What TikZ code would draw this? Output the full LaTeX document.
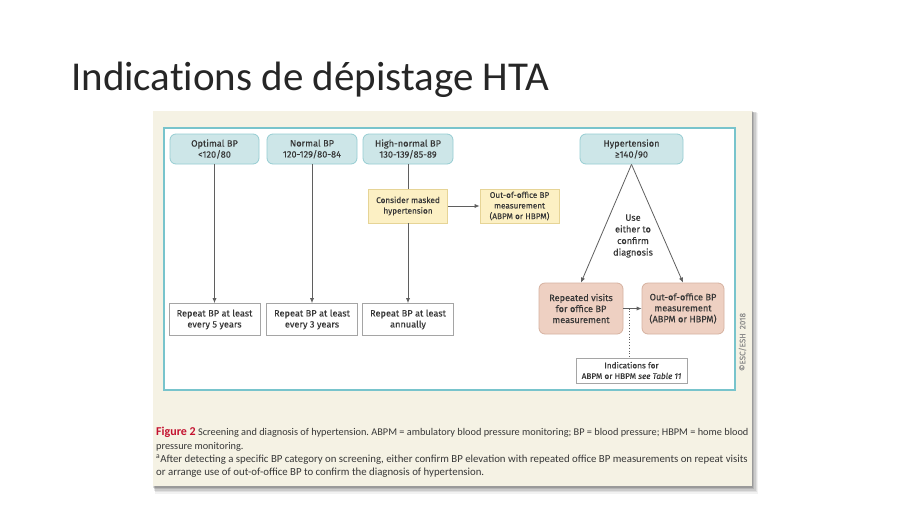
\documentclass[tikz,border=0pt]{standalone}
\usepackage{fontspec}
\setmainfont{Carlito}
\newfontfamily\titlefont[Ligatures=NoCommon]{Carlito}
\newfontfamily\nodefont[FakeBold=0.12]{Fira Sans}
\newfontfamily\capfont{Carlito}
\usetikzlibrary{arrows.meta}
\definecolor{panelbg}{RGB}{245,242,228}
\definecolor{tealframe}{RGB}{120,196,204}
\definecolor{tealfill}{RGB}{205,230,232}
\definecolor{tealline}{RGB}{150,205,210}
\definecolor{yelfill}{RGB}{252,240,196}
\definecolor{yelline}{RGB}{230,212,150}
\definecolor{pinkfill}{RGB}{238,208,194}
\definecolor{pinkline}{RGB}{214,178,160}
\definecolor{grayline}{RGB}{165,165,165}
\definecolor{txt}{RGB}{55,55,55}
\definecolor{conn}{RGB}{95,95,95}
\definecolor{figred}{RGB}{196,18,48}
\tikzset{
  base/.style={inner sep=0pt, align=center, text=txt, font=\nodefont\fontsize{9.2}{11}\selectfont},
  small/.style={font=\nodefont\fontsize{8.2}{10.6}\selectfont},
  catbox/.style={base, draw=tealline, fill=tealfill, rounded corners=6pt, line width=0.8pt},
  yelbox/.style={base, small, draw=yelline, fill=yelfill, line width=0.8pt},
  pinkbox/.style={base, draw=pinkline, fill=pinkfill, rounded corners=6pt, line width=0.8pt},
  whitebox/.style={base, draw=grayline, fill=white, line width=0.8pt},
  conline/.style={draw=conn, line width=0.8pt},
  conarrow/.style={conline, -{Latex[length=5pt,width=4.2pt]}},
  captext/.style={anchor=base west, inner sep=0pt, text=txt, font=\capfont\frenchspacing\fontsize{10.3}{10.5}\selectfont},
  captextb/.style={captext, font=\capfont\frenchspacing\fontsize{10.8}{10.5}\selectfont}
}
\begin{document}
\begin{tikzpicture}[x=1pt,y=-1pt]
\useasboundingbox (0,0) rectangle (910,512);
\fill[white] (0,0) rectangle (910,512);
% title
\node[anchor=base west, inner sep=0pt, text=black!85, font=\titlefont\fontsize{41}{48}\selectfont] (title) at (71,90) {Indications de dépistage HTA};
% panel shadow
\foreach \d/\o in {8/0.05,6/0.07,4.5/0.09,3/0.11,1.5/0.14}{
  \fill[black, opacity=\o] (153+\d*0.3,111+\d*0.2) rectangle (752+\d*0.8,486+\d);
}
\fill[panelbg] (153,111) rectangle (752,486);
\draw[tealframe, fill=white, line width=1.1pt] (164,128) rectangle (735,390);
% category boxes
\node[catbox, minimum width=89pt, minimum height=30pt] (opt) at (214.5,149) {Optimal BP\\<120/80};
\node[catbox, minimum width=90pt, minimum height=30pt] (nor) at (312,149) {Normal BP\\120-129/80-84};
\node[catbox, minimum width=90pt, minimum height=30pt] (hin) at (408,149) {High-normal BP\\130-139/85-89};
\node[catbox, minimum width=103pt, minimum height=30pt] (hyp) at (631.5,149) {Hypertension\\≥140/90};
% yellow boxes
\node[yelbox, minimum width=79pt, minimum height=34pt] (cons) at (408,206) {Consider masked\\hypertension};
\node[yelbox, minimum width=79pt, minimum height=34pt] (ooy) at (519.5,206) {Out-of-office BP\\measurement\\(ABPM or HBPM)};
% repeat boxes
\node[whitebox, minimum width=91pt, minimum height=32pt] (r5) at (214.5,319.5) {Repeat BP at least\\every 5 years};
\node[whitebox, minimum width=91pt, minimum height=32pt] (r3) at (312,319.5) {Repeat BP at least\\every 3 years};
\node[whitebox, minimum width=91pt, minimum height=32pt] (ra) at (408,319.5) {Repeat BP at least\\annually};
% pink boxes
\node[pinkbox, minimum width=84pt, minimum height=51pt] (rep) at (581,308.5) {Repeated visits\\for office BP\\measurement};
\node[pinkbox, minimum width=82pt, minimum height=51pt] (oop) at (683,308.5) {Out-of-office BP\\measurement\\(ABPM or HBPM)};
\node[whitebox, small, minimum width=111pt, minimum height=25pt] (ind) at (631.5,370.5) {Indications for\\ABPM or HBPM \textit{see Table 11}};
\node[base, font=\nodefont\fontsize{9.2}{11.6}\selectfont] (use) at (633,236) {Use\\either to\\confirm\\diagnosis};
% connectors
\draw[conarrow] (opt.south) -- (r5.north);
\draw[conarrow] (nor.south) -- (r3.north);
\draw[conline] (hin.south) -- (cons.north);
\draw[conarrow] (cons.south) -- (ra.north);
\draw[conarrow] (cons.east) -- (ooy.west);
\draw[conarrow] (hyp.south) -- (rep.north);
\draw[conarrow] (hyp.south) -- (oop.north);
\coordinate (dj) at (629,308.5);
\draw[conarrow] (rep.east) -- (oop.west);
\draw[conn, line width=0.8pt, dotted] (dj) -- (dj |- ind.north);
% copyright
\node[rotate=90, inner sep=0pt, text=black!45, font=\nodefont\fontsize{8}{9}\selectfont] (copy) at (742.5,342) {©ESC/ESH\ \ 2018};
% caption
\node[captext] (cap1) at (156,435.5) {\textcolor{figred}{\bfseries\fontsize{12}{10.5}\selectfont Figure 2} Screening and diagnosis of hypertension. ABPM = ambulatory blood pressure monitoring; BP = blood pressure; HBPM = home blood};
\node[captext] (cap2) at (156,449) {pressure monitoring.};
\node[captextb] (cap3) at (156,462) {\textsuperscript{a}After detecting a specific BP category on screening, either confirm BP elevation with repeated office BP measurements on repeat visits};
\node[captextb] (cap4) at (156,475) {or arrange use of out-of-office BP to confirm the diagnosis of hypertension.};
\end{tikzpicture}
\end{document}
